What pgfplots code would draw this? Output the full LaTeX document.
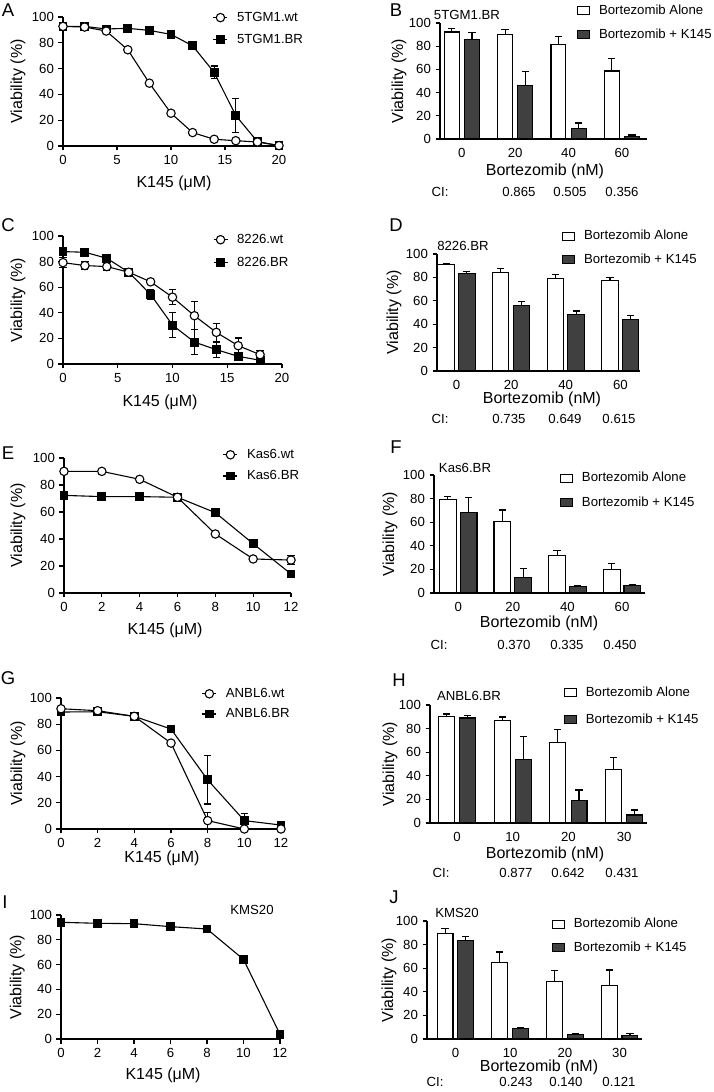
\documentclass[border=0pt]{standalone}
\usepackage{fontspec}
\setmainfont{Liberation Sans}
\usepackage{pgfplots}
\pgfplotsset{compat=1.18}
\definecolor{darkbar}{RGB}{64,64,64}
\newcommand{\tk}{\fontsize{13.2}{15}\selectfont}
\newcommand{\lb}{\fontsize{16}{19}\selectfont}
\newcommand{\pl}{\fontsize{18.5}{22}\selectfont}
\pgfplotsset{
 base/.style={scale only axis, anchor=south west, axis lines*=left,
  axis line style={-,line width=1.1pt}, tick align=outside, major tick length=4.5pt,
  every tick/.style={black,line width=1.1pt}, ymin=0, ymax=100, ytick={0,20,40,60,80,100},
  clip=false, /pgf/number format/assume math mode=true,
  tick label style={font=\tk}, label style={font=\lb}, ylabel={Viability (\%)},
  legend style={draw=none, fill=none, font=\tk, inner sep=0pt, outer sep=0pt,
   anchor=north west, cells={anchor=west}, column sep=7pt},
  legend cell align=left},
 curve/.style={base, xlabel={K145 (μM)}, reverse legend,
  legend image code/.code={\draw[mark repeat=2,mark phase=2,##1] plot coordinates {(0pt,0pt) (7pt,0pt) (14pt,0pt)};}},
 bars/.style={base, xtick={0,1,2,3}, x tick style={draw=none}, xlabel={Bortezomib (nM)},
  legend image code/.code={\draw[##1,line width=1pt] (0pt,-4pt) rectangle (12pt,4pt);}},
 eb/.style={error bars/.cd, y dir=#1, y explicit, error bar style={line width=1.1pt,black},
  error mark options={rotate=90, line width=1.1pt, mark size=3.6pt, black}},
 br/.style={black, line width=1.1pt, mark=square*, mark size=3.9pt, mark options={fill=black,solid}, eb=both},
 wt/.style={black, line width=1.1pt, mark=*, mark size=4.2pt, mark options={fill=white,solid}, eb=both},
 wb/.style={ybar, bar shift=0pt, fill=white, draw=black, line width=1.1pt, bar width=#1, eb=plus},
 db/.style={ybar, bar shift=0pt, fill=darkbar, draw=black, line width=1.1pt, bar width=#1, eb=plus},
}
\begin{document}
\begin{tikzpicture}[x=1pt,y=1pt]
\useasboundingbox (0,0) rectangle (714,1092);
\tk
% ---------------- A
\begin{axis}[curve, at={(63pt,946pt)}, width=216pt, height=129pt, xmin=0, xmax=20, xtick={0,5,10,15,20},
 xlabel style={at={(axis description cs:0.514,-0.287)}, anchor=center},
 ylabel style={at={(axis description cs:-0.208,0.5)}, anchor=center},
 legend style={at={(axis description cs:0.694,1.054)}, row sep=7pt}]
\addplot[br] coordinates {(0,92.7) +- (0,0) (2,92.7) +- (0,0) (4,90.7) +- (0,0) (6,91.2) +- (0,0) (8,89.6) +- (0,0) (10,86.5) +- (0,0) (12,77.7) +- (0,0) (14,57) +- (0,5) (16,23.6) +- (0,13) (18,3.4) +- (0,0) (20,0.3) +- (0,0)};
\addlegendentry{5TGM1.BR}
\addplot[wt] coordinates {(0,92.7) +- (0,0) (2,92.2) +- (0,0) (4,89.1) +- (0,0) (6,74.6) +- (0,0) (8,48.7) +- (0,0) (10,25.4) +- (0,0) (12,10.4) +- (0,0) (14,5.2) +- (0,0) (16,4.1) +- (0,0) (18,3.1) +- (0,0) (20,0.3) +- (0,0)};
\addlegendentry{5TGM1.wt}
\end{axis}
% ---------------- B
\begin{axis}[bars, at={(440pt,953pt)}, width=207pt, height=116pt, xmin=-0.41, xmax=3.47, xticklabels={0,20,40,60},
 xlabel style={at={(axis description cs:0.507,-0.276)}, anchor=center},
 ylabel style={at={(axis description cs:-0.198,0.5)}, anchor=center},
 legend style={at={(axis description cs:0.662,1.172)}, row sep=8pt}]
\addplot[wb=0.28] coordinates {(-0.19,92.2) +- (0,2.9) (0.81,89.7) +- (0,4.3) (1.81,81.6) +- (0,6.6) (2.81,58.6) +- (0,10.4)};
\addlegendentry{Bortezomib Alone}
\addplot[db=0.28] coordinates {(0.19,85.6) +- (0,6.1) (1.19,46.3) +- (0,12) (2.19,8.9) +- (0,4.9) (3.19,2) +- (0,1.4)};
\addlegendentry{Bortezomib + K145}
\end{axis}
% ---------------- C
\begin{axis}[curve, at={(63pt,728pt)}, width=219pt, height=128pt, xmin=0, xmax=20, xtick={0,5,10,15,20},
 xlabel style={at={(axis description cs:0.443,-0.297)}, anchor=center},
 ylabel style={at={(axis description cs:-0.205,0.5)}, anchor=center},
 legend style={at={(axis description cs:0.685,1.03)}, row sep=8pt}]
\addplot[br] coordinates {(0,87.8) +- (0,0) (2,87.3) +- (0,0) (4,82.6) +- (0,0) (6,71.7) +- (0,0) (8,54.3) +- (0,4) (10,30.4) +- (0,10) (12,17.1) +- (0,9.5) (14,11.2) +- (0,6) (16,6) +- (0,2) (18,2.9) +- (0,0)};
\addlegendentry{8226.BR}
\addplot[wt] coordinates {(0,79.2) +- (0,4) (2,76.9) +- (0,3) (4,76.1) +- (0,3) (6,71.7) +- (0,2) (8,64.2) +- (0,2) (10,52.2) +- (0,6) (12,37.7) +- (0,11) (14,24.7) +- (0,7) (16,14.3) +- (0,6) (18,7.3) +- (0,3.5)};
\addlegendentry{8226.wt}
\end{axis}
% ---------------- D
\begin{axis}[bars, at={(437pt,721pt)}, width=203pt, height=117pt, xmin=-0.357, xmax=3.36, xticklabels={0,20,40,60},
 xlabel style={at={(axis description cs:0.517,-0.239)}, anchor=center},
 ylabel style={at={(axis description cs:-0.212,0.5)}, anchor=center},
 legend style={at={(axis description cs:0.616,1.22)}, row sep=8pt}]
\addplot[wb=0.3] coordinates {(-0.19,90.8) +- (0,0.9) (0.81,84.5) +- (0,2.9) (1.81,79.4) +- (0,3.4) (2.81,77.4) +- (0,2.8)};
\addlegendentry{Bortezomib Alone}
\addplot[db=0.3] coordinates {(0.19,83.1) +- (0,2) (1.19,56.2) +- (0,3.1) (2.19,47.9) +- (0,3.4) (3.19,43.8) +- (0,3.8)};
\addlegendentry{Bortezomib + K145}
\end{axis}
% ---------------- E
\begin{axis}[curve, at={(64pt,499pt)}, width=227pt, height=135pt, xmin=0, xmax=12, xtick={0,2,...,12},
 xlabel style={at={(axis description cs:0.445,-0.274)}, anchor=center},
 ylabel style={at={(axis description cs:-0.203,0.5)}, anchor=center},
 legend style={at={(axis description cs:0.70,1.08)}, row sep=6pt}]
\addplot[br] coordinates {(0,72.3) +- (0,0) (2,71.4) +- (0,0) (4,71.4) +- (0,0) (6,70.9) +- (0,0) (8,59.5) +- (0,0) (10,36.5) +- (0,0) (12,14.1) +- (0,0)};
\addlegendentry{Kas6.BR}
\addplot[wt] coordinates {(0,90.1) +- (0,0) (2,90.1) +- (0,0) (4,84.2) +- (0,0) (6,70.9) +- (0,0) (8,43.7) +- (0,0) (10,25.2) +- (0,0) (12,24.4) +- (0,3.5)};
\addlegendentry{Kas6.wt}
\end{axis}
% ---------------- F
\begin{axis}[bars, at={(434pt,499pt)}, width=211pt, height=118pt, xmin=-0.443, xmax=3.42, xticklabels={0,20,40,60},
 xlabel style={at={(axis description cs:0.498,-0.254)}, anchor=center},
 ylabel style={at={(axis description cs:-0.209,0.5)}, anchor=center},
 legend style={at={(axis description cs:0.597,1.04)}, row sep=9pt}]
\addplot[wb=0.31] coordinates {(-0.19,79.3) +- (0,2.3) (0.81,60.3) +- (0,10) (1.81,32) +- (0,4.3) (2.81,20.1) +- (0,5.1)};
\addlegendentry{Bortezomib Alone}
\addplot[db=0.31] coordinates {(0.19,68) +- (0,12.7) (1.19,13) +- (0,7.4) (2.19,5.7) +- (0,0.5) (3.19,6.5) +- (0,0.9)};
\addlegendentry{Bortezomib + K145}
\end{axis}
% ---------------- G
\begin{axis}[curve, at={(61pt,263pt)}, width=220pt, height=131pt, xmin=0, xmax=12, xtick={0,2,...,12},
 xlabel style={at={(axis description cs:0.459,-0.225)}, anchor=center},
 ylabel style={at={(axis description cs:-0.195,0.5)}, anchor=center},
 legend style={at={(axis description cs:0.64,1.09)}, row sep=5pt}]
\addplot[br] coordinates {(0,89.3) +- (0,0) (2,89.5) +- (0,0) (4,86) +- (0,0) (6,76.3) +- (0,0) (8,37.5) +- (0,18.4) (10,6.4) +- (0,5.7) (12,3) +- (0,0)};
\addlegendentry{ANBL6.BR}
\addplot[wt] coordinates {(0,91.8) +- (0,0) (2,90.3) +- (0,0) (4,86) +- (0,0) (6,65.6) +- (0,0) (8,6.4) +- (0,6) (10,0) +- (0,0) (12,0) +- (0,0)};
\addlegendentry{ANBL6.wt}
\end{axis}
% ---------------- H
\begin{axis}[bars, at={(430pt,269pt)}, width=217pt, height=118pt, xmin=-0.485, xmax=3.41, xticklabels={0,10,20,30},
 xlabel style={at={(axis description cs:0.53,-0.263)}, anchor=center},
 ylabel style={at={(axis description cs:-0.184,0.5)}, anchor=center},
 legend style={at={(axis description cs:0.617,1.17)}, row sep=11pt}]
\addplot[wb=0.285] coordinates {(-0.19,90.4) +- (0,2) (0.81,87) +- (0,2.8) (1.81,68.3) +- (0,10.7) (2.81,45) +- (0,10.8)};
\addlegendentry{Bortezomib Alone}
\addplot[db=0.285] coordinates {(0.19,89) +- (0,1.9) (1.19,53.5) +- (0,19.9) (2.19,18.7) +- (0,9.3) (3.19,6.8) +- (0,4.2)};
\addlegendentry{Bortezomib + K145}
\end{axis}
% ---------------- I
\begin{axis}[curve, at={(61pt,53pt)}, width=219pt, height=124pt, xmin=0, xmax=12, xtick={0,2,...,12},
 xlabel style={at={(axis description cs:0.466,-0.29)}, anchor=center},
 ylabel style={at={(axis description cs:-0.2,0.5)}, anchor=center}]
\addplot[br] coordinates {(0,94.1) +- (0,0) (2,93.3) +- (0,0) (4,93) +- (0,0) (6,90.6) +- (0,0) (8,88.7) +- (0,0) (10,64.2) +- (0,0) (12,3.8) +- (0,0)};
\end{axis}
% ---------------- J
\begin{axis}[bars, at={(427pt,53pt)}, width=215pt, height=118pt, xmin=-0.52, xmax=3.41, xticklabels={0,10,20,30},
 xlabel style={at={(axis description cs:0.521,-0.237)}, anchor=center},
 ylabel style={at={(axis description cs:-0.177,0.5)}, anchor=center},
 legend style={at={(axis description cs:0.581,1.04)}, row sep=8pt}]
\addplot[wb=0.29] coordinates {(-0.19,89.5) +- (0,4) (0.81,64.7) +- (0,9) (1.81,48.9) +- (0,9) (2.81,45.2) +- (0,13.3)};
\addlegendentry{Bortezomib Alone}
\addplot[db=0.29] coordinates {(0.19,83.3) +- (0,3.4) (1.19,9) +- (0,0.9) (2.19,4) +- (0,0.5) (3.19,2.8) +- (0,2)};
\addlegendentry{Bortezomib + K145}
\end{axis}
% ---------------- text
\node[font=\pl] at (8,1082) {A};
\node[font=\pl] at (396,1082) {B};
\node[font=\pl] at (8,867) {C};
\node[font=\pl] at (396,867) {D};
\node[font=\pl] at (8,639) {E};
\node[font=\pl] at (396,645) {F};
\node[font=\pl] at (8,414) {G};
\node[font=\pl] at (399,412) {H};
\node[font=\pl] at (5,190) {I};
\node[font=\pl] at (394,195) {J};
\node at (467,1077) {5TGM1.BR};
\node at (463,846) {8226.BR};
\node at (465,624) {Kas6.BR};
\node at (469,396) {ANBL6.BR};
\node at (457,179) {KMS20};
\node at (252,182) {KMS20};
\node at (440,900) {CI:}; \node at (519,900) {0.865}; \node at (570,900) {0.505}; \node at (622,900) {0.356};
\node at (440,673) {CI:}; \node at (509,673) {0.735}; \node at (565,673) {0.649}; \node at (619,673) {0.615};
\node at (439,447) {CI:}; \node at (514,447) {0.370}; \node at (567,447) {0.335}; \node at (620,447) {0.450};
\node at (441,219) {CI:}; \node at (516,219) {0.877}; \node at (568,219) {0.642}; \node at (622,219) {0.431};
\node at (435,10) {CI:}; \node at (516,10) {0.243}; \node at (566,10) {0.140}; \node at (619,10) {0.121};
\end{tikzpicture}
\end{document}
